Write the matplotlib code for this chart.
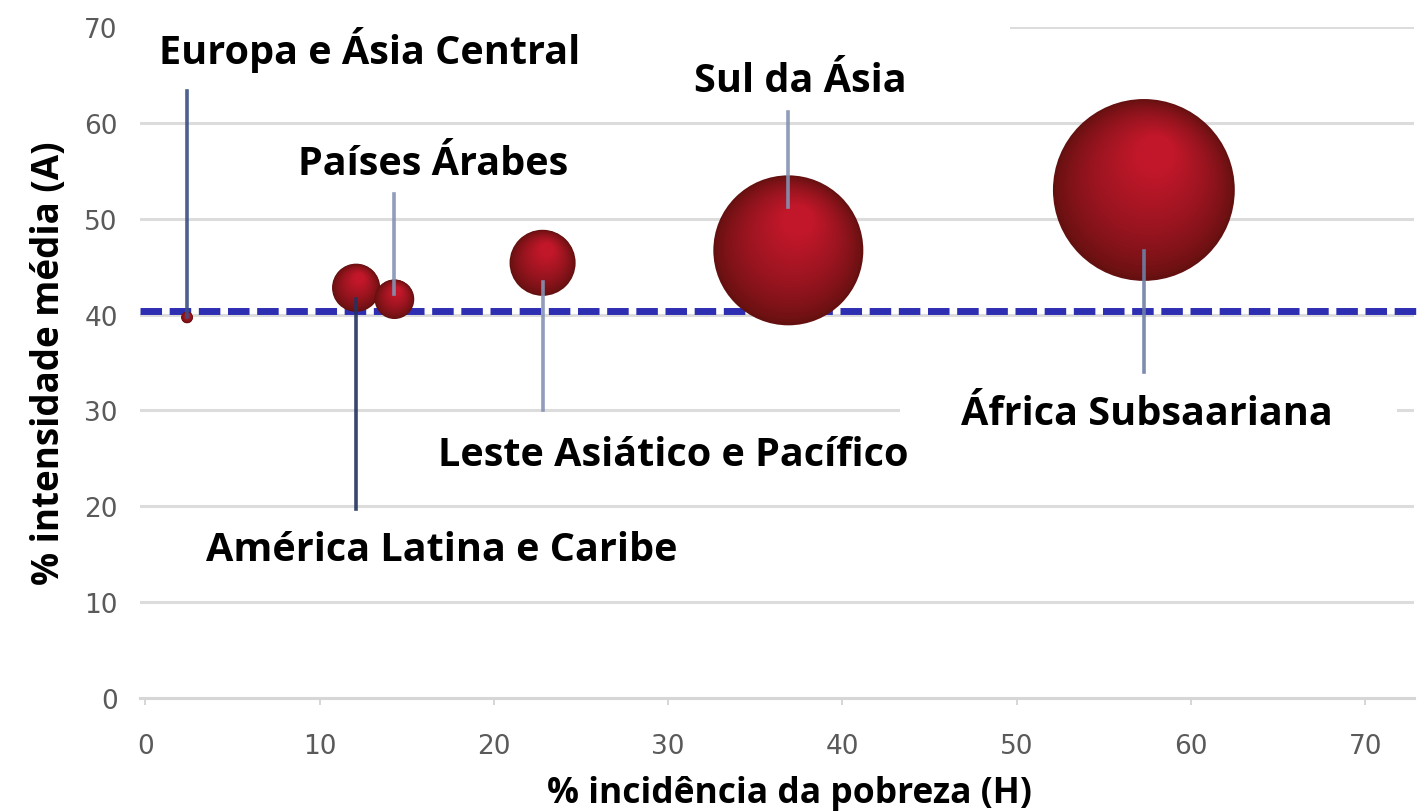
import numpy as np
import matplotlib
matplotlib.use("Agg")
import matplotlib.pyplot as plt
import matplotlib.transforms as mtransforms
from matplotlib.patches import Rectangle
from matplotlib.colors import to_rgb

# dados
regioes = ["Europa e Ásia Central", "América Latina e Caribe", "Países Árabes",
           "Leste Asiático e Pacífico", "Sul da Ásia", "África Subsaariana"]
incidencia_H = [2.4, 12.1, 14.3, 22.8, 36.9, 57.3]
intensidade_A = [39.7, 42.8, 41.6, 45.4, 46.7, 53.0]
pobres = [2, 34, 23, 64, 330, 485]   # tamanho relativo da bolha
media_A = 40.4

# layout dos rotulos: (x texto, y texto, y inicio linha, y fim linha, cor da linha)
rotulos = [
    (12.9, 67.7, 39.7, 63.3, "#3b4f82"),
    (17.0, 15.5, 41.6, 19.7, "#24335f"),
    (16.5, 55.8, 42.1, 52.6, "#8493b4"),
    (30.3, 25.4, 43.4, 30.0, "#8493b4"),
    (37.6, 64.4, 51.2, 61.1, "#8493b4"),
    (57.5, 29.7, 46.6, 34.0, "#6f80a6"),
]

fig = plt.figure(figsize=(14.18, 8.12), dpi=100)
ax = fig.add_axes([140 / 1418, 1 - 699 / 812, 1274 / 1418, 671 / 812])
ax.set_xlim(-0.3, 72.8)
ax.set_ylim(0, 70)

# grade
for yv in range(10, 71, 10):
    ax.axhline(yv, color="#dcdcdc", lw=2.2, zorder=0)
# caixas brancas por tras dos rotulos (escondem partes da grade)
ax.add_patch(Rectangle((-0.3, 66.5), 49.9, 5, fc="white", ec="none", zorder=1, clip_on=False))
ax.add_patch(Rectangle((43.3, 28.0), 28.5, 4, fc="white", ec="none", zorder=1))

for s in ["top", "right", "left"]:
    ax.spines[s].set_visible(False)
ax.spines["bottom"].set_color("#d6d6d6")
ax.spines["bottom"].set_linewidth(2.2)

ax.set_xticks(range(0, 71, 10))
ax.set_yticks(range(0, 71, 10))
ax.tick_params(axis="x", length=5, width=1.2, color="#d0d0d0", pad=20,
               labelsize=19, labelcolor="#5a5a5a")
ax.tick_params(axis="y", length=0, pad=16, labelsize=19, labelcolor="#5a5a5a")

# linha media
ax.plot([-0.3, 73.2], [media_A, media_A], color="#2e2eb2", lw=5,
        linestyle=(0, (3.1, 1.1)), zorder=3, clip_on=False)

# bolhas com gradiente
escuro = np.array(to_rgb("#641010"))
claro = np.array(to_rgb("#c2172a"))
n = 36
for x, y, v in zip(incidencia_H, intensidade_A, pobres):
    r_px = 75 * np.sqrt(v / 330)
    r_pt = r_px * 0.72
    for k in range(n):
        t = k / n
        rr = r_pt * (1 - t)
        dx = 0.16 * r_pt * t / 72
        dy = 0.50 * r_pt * t / 72
        cor = escuro + (claro - escuro) * min(1, (t / 0.8) ** 0.75)
        tr = ax.transData + mtransforms.ScaledTranslation(dx, dy, fig.dpi_scale_trans)
        ax.scatter([x], [y], s=(2 * rr) ** 2, color=cor, edgecolors="none",
                   transform=tr, zorder=4)

# linhas guia e rotulos
for nome, x, (tx, ty, y0, y1, cor) in zip(regioes, incidencia_H, rotulos):
    ax.plot([x, x], [y0, y1], color=cor, lw=2.6, alpha=0.9, zorder=5)
    ax.text(tx, ty, nome, ha="center", va="center", fontsize=28.5,
            fontweight="bold", family="Open Sans", color="black", zorder=6)

ax.set_xlabel("% incidência da pobreza (H)", fontsize=25.5, fontweight="bold",
              family="Open Sans")
ax.xaxis.set_label_coords(0.510, -0.115)
ax.set_ylabel("% intensidade média (A)", fontsize=26.5, fontweight="bold",
              family="Open Sans", labelpad=12)

fig.savefig("out.png", dpi=100)
